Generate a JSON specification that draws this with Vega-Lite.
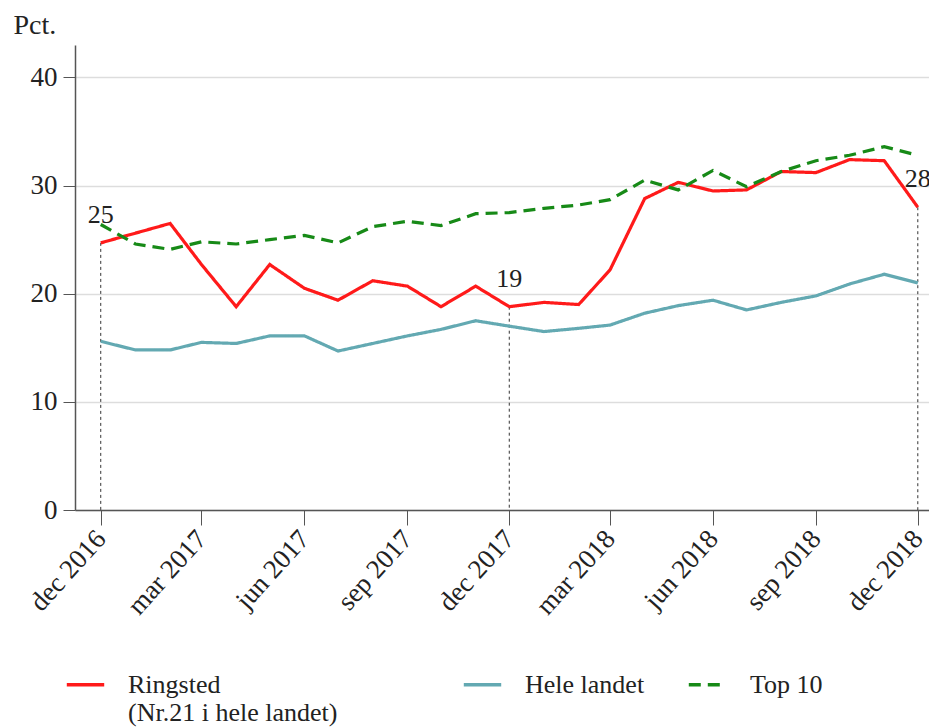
{
  "$schema": "https://vega.github.io/schema/vega-lite/v6.json",
  "width": 854,
  "height": 465,
  "autosize": "none",
  "padding": {"left": 75, "top": 45, "right": 0, "bottom": 218},
  "config": {
    "font": "Liberation Serif",
    "view": {"stroke": null},
    "axis": {"labelFont": "Liberation Serif", "titleFont": "Liberation Serif", "labelColor": "#222", "titleColor": "#222"},
    "legend": {"labelFont": "Liberation Serif"}
  },
  "datasets": {
    "series": [
      {"date": "2016-12-01", "series": "Ringsted", "value": 24.7},
      {"date": "2017-01-01", "series": "Ringsted", "value": 25.6},
      {"date": "2017-02-01", "series": "Ringsted", "value": 26.5},
      {"date": "2017-03-01", "series": "Ringsted", "value": 22.7},
      {"date": "2017-04-01", "series": "Ringsted", "value": 18.8},
      {"date": "2017-05-01", "series": "Ringsted", "value": 22.7},
      {"date": "2017-06-01", "series": "Ringsted", "value": 20.5},
      {"date": "2017-07-01", "series": "Ringsted", "value": 19.4},
      {"date": "2017-08-01", "series": "Ringsted", "value": 21.2},
      {"date": "2017-09-01", "series": "Ringsted", "value": 20.7},
      {"date": "2017-10-01", "series": "Ringsted", "value": 18.8},
      {"date": "2017-11-01", "series": "Ringsted", "value": 20.7},
      {"date": "2017-12-01", "series": "Ringsted", "value": 18.8},
      {"date": "2018-01-01", "series": "Ringsted", "value": 19.2},
      {"date": "2018-02-01", "series": "Ringsted", "value": 19.0},
      {"date": "2018-03-01", "series": "Ringsted", "value": 22.2},
      {"date": "2018-04-01", "series": "Ringsted", "value": 28.8},
      {"date": "2018-05-01", "series": "Ringsted", "value": 30.3},
      {"date": "2018-06-01", "series": "Ringsted", "value": 29.5},
      {"date": "2018-07-01", "series": "Ringsted", "value": 29.6},
      {"date": "2018-08-01", "series": "Ringsted", "value": 31.3},
      {"date": "2018-09-01", "series": "Ringsted", "value": 31.2},
      {"date": "2018-10-01", "series": "Ringsted", "value": 32.4},
      {"date": "2018-11-01", "series": "Ringsted", "value": 32.3},
      {"date": "2018-12-01", "series": "Ringsted", "value": 28.0},
      {"date": "2016-12-01", "series": "Hele landet", "value": 15.6},
      {"date": "2017-01-01", "series": "Hele landet", "value": 14.8},
      {"date": "2017-02-01", "series": "Hele landet", "value": 14.8},
      {"date": "2017-03-01", "series": "Hele landet", "value": 15.5},
      {"date": "2017-04-01", "series": "Hele landet", "value": 15.4},
      {"date": "2017-05-01", "series": "Hele landet", "value": 16.1},
      {"date": "2017-06-01", "series": "Hele landet", "value": 16.1},
      {"date": "2017-07-01", "series": "Hele landet", "value": 14.7},
      {"date": "2017-08-01", "series": "Hele landet", "value": 15.4},
      {"date": "2017-09-01", "series": "Hele landet", "value": 16.1},
      {"date": "2017-10-01", "series": "Hele landet", "value": 16.7},
      {"date": "2017-11-01", "series": "Hele landet", "value": 17.5},
      {"date": "2017-12-01", "series": "Hele landet", "value": 17.0},
      {"date": "2018-01-01", "series": "Hele landet", "value": 16.5},
      {"date": "2018-02-01", "series": "Hele landet", "value": 16.8},
      {"date": "2018-03-01", "series": "Hele landet", "value": 17.1},
      {"date": "2018-04-01", "series": "Hele landet", "value": 18.2},
      {"date": "2018-05-01", "series": "Hele landet", "value": 18.9},
      {"date": "2018-06-01", "series": "Hele landet", "value": 19.4},
      {"date": "2018-07-01", "series": "Hele landet", "value": 18.5},
      {"date": "2018-08-01", "series": "Hele landet", "value": 19.2},
      {"date": "2018-09-01", "series": "Hele landet", "value": 19.8},
      {"date": "2018-10-01", "series": "Hele landet", "value": 20.9},
      {"date": "2018-11-01", "series": "Hele landet", "value": 21.8},
      {"date": "2018-12-01", "series": "Hele landet", "value": 21.0},
      {"date": "2016-12-01", "series": "Top 10", "value": 26.4},
      {"date": "2017-01-01", "series": "Top 10", "value": 24.6},
      {"date": "2017-02-01", "series": "Top 10", "value": 24.1},
      {"date": "2017-03-01", "series": "Top 10", "value": 24.8},
      {"date": "2017-04-01", "series": "Top 10", "value": 24.6},
      {"date": "2017-05-01", "series": "Top 10", "value": 25.0},
      {"date": "2017-06-01", "series": "Top 10", "value": 25.4},
      {"date": "2017-07-01", "series": "Top 10", "value": 24.7},
      {"date": "2017-08-01", "series": "Top 10", "value": 26.2},
      {"date": "2017-09-01", "series": "Top 10", "value": 26.7},
      {"date": "2017-10-01", "series": "Top 10", "value": 26.3},
      {"date": "2017-11-01", "series": "Top 10", "value": 27.4},
      {"date": "2017-12-01", "series": "Top 10", "value": 27.5},
      {"date": "2018-01-01", "series": "Top 10", "value": 27.9},
      {"date": "2018-02-01", "series": "Top 10", "value": 28.2},
      {"date": "2018-03-01", "series": "Top 10", "value": 28.7},
      {"date": "2018-04-01", "series": "Top 10", "value": 30.5},
      {"date": "2018-05-01", "series": "Top 10", "value": 29.6},
      {"date": "2018-06-01", "series": "Top 10", "value": 31.4},
      {"date": "2018-07-01", "series": "Top 10", "value": 29.9},
      {"date": "2018-08-01", "series": "Top 10", "value": 31.3},
      {"date": "2018-09-01", "series": "Top 10", "value": 32.3},
      {"date": "2018-10-01", "series": "Top 10", "value": 32.8},
      {"date": "2018-11-01", "series": "Top 10", "value": 33.6},
      {"date": "2018-12-01", "series": "Top 10", "value": 32.8}
    ],
    "notes": [
      {"date": "2016-12-01", "value": 24.7, "label": "25"},
      {"date": "2017-12-01", "value": 18.8, "label": "19"},
      {"date": "2018-12-01", "value": 28.0, "label": "28"}
    ]
  },
  "layer": [
    {
      "data": {"name": "notes"},
      "mark": {"type": "rule", "strokeDash": [3, 3], "color": "#333", "strokeWidth": 1},
      "encoding": {
        "x": {"field": "date", "type": "temporal"},
        "y": {"field": "value", "type": "quantitative"},
        "y2": {"datum": 0}
      }
    },
    {
      "data": {"name": "series"},
      "mark": {"type": "line", "strokeWidth": 3.2},
      "encoding": {
        "x": {
          "field": "date",
          "type": "temporal",
          "scale": {
            "type": "utc",
            "domain": [
              {"year": 2016, "month": 11, "date": 8, "utc": true},
              {"year": 2018, "month": 12, "date": 11, "utc": true}
            ]
          },
          "axis": {
            "title": null,
            "grid": false,
            "values": [
              {"year": 2016, "month": 12, "date": 1, "utc": true},
              {"year": 2017, "month": 3, "date": 1, "utc": true},
              {"year": 2017, "month": 6, "date": 1, "utc": true},
              {"year": 2017, "month": 9, "date": 1, "utc": true},
              {"year": 2017, "month": 12, "date": 1, "utc": true},
              {"year": 2018, "month": 3, "date": 1, "utc": true},
              {"year": 2018, "month": 6, "date": 1, "utc": true},
              {"year": 2018, "month": 9, "date": 1, "utc": true},
              {"year": 2018, "month": 12, "date": 1, "utc": true}
            ],
            "labelExpr": "lower(utcFormat(datum.value, '%b %Y'))",
            "labelAngle": -48,
            "labelAlign": "right",
            "labelBaseline": "middle",
            "labelFontSize": 27,
            "labelPadding": 9,
            "tickSize": 15,
            "tickColor": "#555",
            "domainColor": "#555",
            "domainWidth": 1.5,
            "labelOverlap": false,
            "labelFlush": false
          }
        },
        "y": {
          "field": "value",
          "type": "quantitative",
          "scale": {"domain": [0, 43], "nice": false},
          "axis": {
            "values": [0, 10, 20, 30, 40],
            "title": "Pct.",
            "titleAngle": 0,
            "titleAlign": "left",
            "titleBaseline": "alphabetic",
            "titleX": -62,
            "titleY": -12,
            "titleFontSize": 28,
            "titleFontWeight": "normal",
            "labelFontSize": 27,
            "labelPadding": 6,
            "tickSize": 12,
            "tickColor": "#555",
            "domainColor": "#555",
            "domainWidth": 1.5,
            "gridColor": "#dddddd",
            "gridWidth": 1.5,
            "labelFlush": false
          }
        },
        "color": {
          "field": "series",
          "type": "nominal",
          "scale": {"domain": ["Ringsted", "Hele landet", "Top 10"], "range": ["#ff1a1a", "#63a9b2", "#178a17"]},
          "legend": {
            "title": null,
            "orient": "none",
            "legendX": -10,
            "legendY": 619,
            "direction": "horizontal",
            "columns": 3,
            "columnPadding": 36,
            "padding": 0,
            "symbolType": "stroke",
            "symbolSize": 1400,
            "symbolStrokeWidth": 3.5,
            "labelFontSize": 26,
            "labelOffset": 22,
            "labelLimit": 600,
            "labelBaseline": "middle",
            "labelColor": "#222",
            "labelExpr": "datum.label == 'Ringsted' ? ['Ringsted', '\u00a0(Nr.21 i hele landet)\u2800\u2800\u2800\u00a0\u2800'] : [datum.label, '\u2800']"
          }
        },
        "strokeDash": {
          "field": "series",
          "type": "nominal",
          "scale": {"domain": ["Ringsted", "Hele landet", "Top 10"], "range": [[1, 0], [1, 0], [12, 7]]},
          "legend": {
            "title": null,
            "orient": "none",
            "legendX": -10,
            "legendY": 619,
            "direction": "horizontal",
            "columns": 3,
            "columnPadding": 36,
            "padding": 0,
            "symbolType": "stroke",
            "symbolSize": 1400,
            "symbolStrokeWidth": 3.5,
            "labelFontSize": 26,
            "labelOffset": 22,
            "labelLimit": 600,
            "labelBaseline": "middle",
            "labelColor": "#222",
            "labelExpr": "datum.label == 'Ringsted' ? ['Ringsted', '\u00a0(Nr.21 i hele landet)\u2800\u2800\u2800\u00a0\u2800'] : [datum.label, '\u2800']"
          }
        }
      }
    },
    {
      "data": {"name": "notes"},
      "mark": {"type": "text", "fontSize": 26, "dy": -20, "color": "#222", "baseline": "alphabetic"},
      "encoding": {
        "x": {"field": "date", "type": "temporal"},
        "y": {"field": "value", "type": "quantitative"},
        "text": {"field": "label"}
      }
    }
  ]
}
